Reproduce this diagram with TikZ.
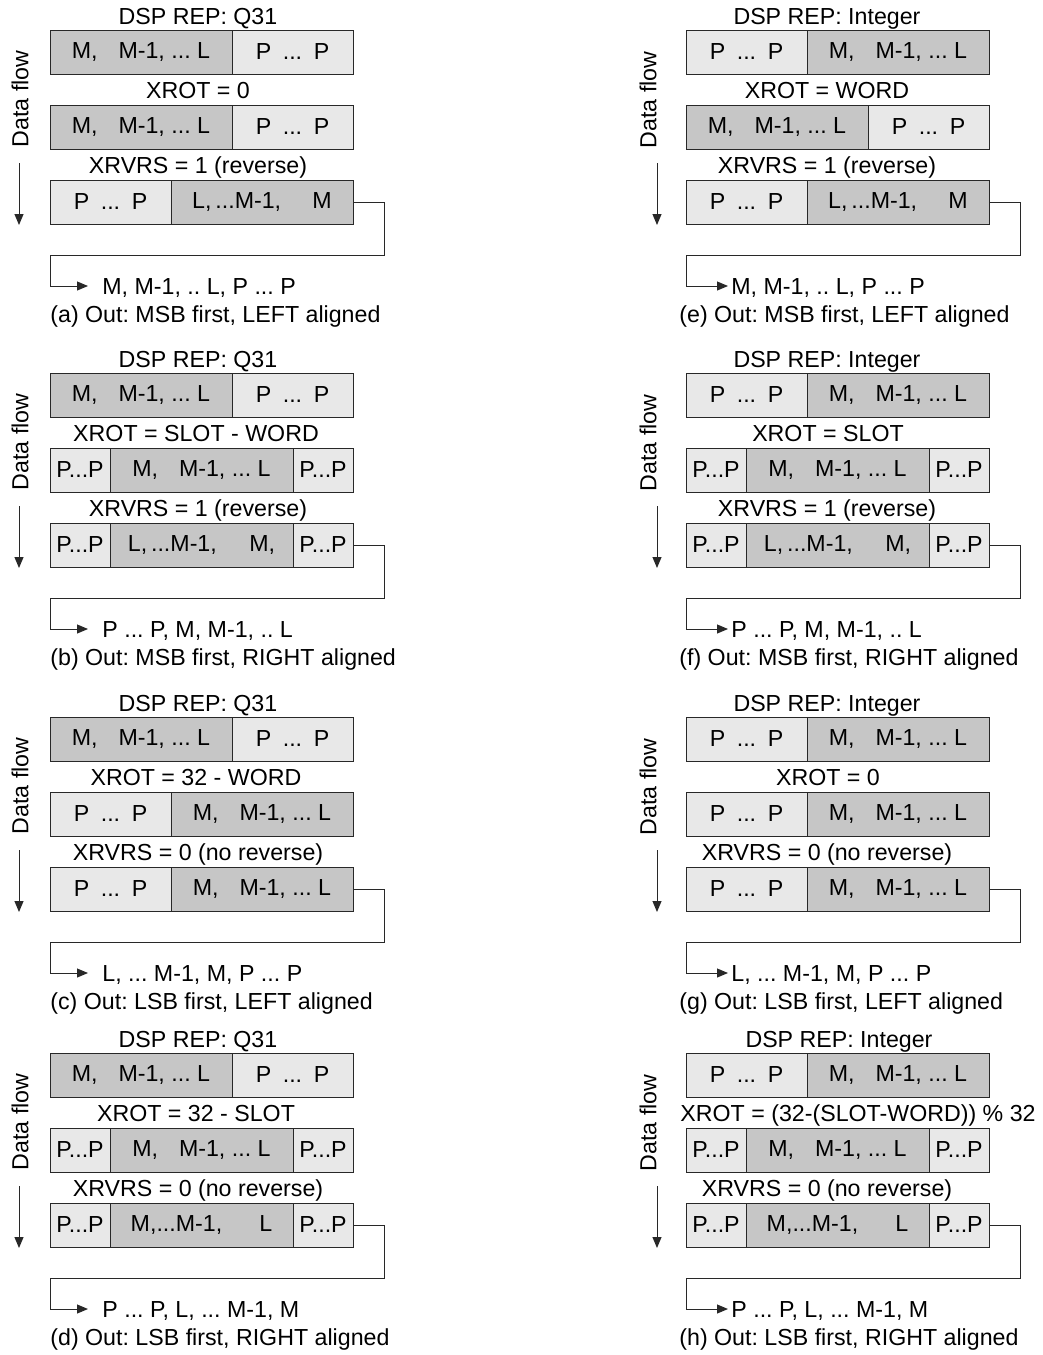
\documentclass[tikz,border=0pt]{standalone}
\usepackage{fontspec}
\setmainfont{Liberation Sans}
\usetikzlibrary{arrows.meta,positioning}
\definecolor{regdark}{RGB}{198,198,198}
\definecolor{reglight}{RGB}{232,232,232}
\definecolor{regline}{RGB}{40,40,40}
\newcommand{\mfwd}{M,\hspace{0.9em}M-1, ... L}
\newcommand{\mrev}{L,\,...M-1,\hspace{1.35em}M}
\newcommand{\mrevc}{L,\,...M-1,\hspace{1.4em}M,}
\newcommand{\mlast}{M,...M-1,\hspace{1.6em}L}
\newcommand{\pwide}{P\hspace{0.5em}...\hspace{0.5em}P}
\newcommand{\pfew}{P...P}
\frenchspacing

\begin{document}
\begin{tikzpicture}[x=0.5pt, y=-0.5pt, font=\fontsize{11.6pt}{14pt}\selectfont,
  cell/.style={draw=regline, line width=0.5pt, minimum height=22pt, inner sep=0pt, outer sep=0pt, anchor=west},
  dark/.style={fill=regdark},
  light/.style={fill=reglight},
  widecell/.style={minimum width=91pt},
  narrowcell/.style={minimum width=60.5pt},
  padcell/.style={minimum width=30pt},
  midcell/.style={minimum width=91.5pt},
  lbl/.style={anchor=base, inner sep=0pt},
  outtxt/.style={anchor=west, inner xsep=7pt, inner ysep=0pt, text height=8.3pt, text depth=0pt},
  captxt/.style={anchor=base west, inner sep=0pt},
  flowtxt/.style={rotate=90, inner sep=0pt},
  link/.style={draw=regline, line width=0.5pt, -{Triangle[length=5.5pt,width=4.5pt]}}]
  \useasboundingbox (0,0) rectangle (1043,1355);

  % (a) MSB first, left aligned
  \begin{scope}[shift={(0,0)}]
    \node[lbl] (a-rep) at (198,24) {DSP REP: Q31};
    \node[cell, dark, widecell] (a1l) at (50,52) {\mfwd};
    \node[cell, light, narrowcell, right=0pt of a1l] (a1r) {\pwide};
    \node[lbl] (a-rot) at (198,98) {XROT = 0};
    \node[cell, dark, widecell] (a2l) at (50,127) {\mfwd};
    \node[cell, light, narrowcell, right=0pt of a2l] (a2r) {\pwide};
    \node[lbl] (a-rvs) at (198,173) {XRVRS = 1 (reverse)};
    \node[cell, light, narrowcell] (a3l) at (50,202) {\pwide};
    \node[cell, dark, widecell, right=0pt of a3l] (a3r) {\mrev};
    \node[outtxt] (a-out) at (88,286) {M, M-1, .. L, P ... P};
    \node[captxt] (a-cap) at (50,322) {(a) Out: MSB first, LEFT aligned};
    \coordinate (a-k) at (384,255);
    \coordinate (a-j) at (50,255);
    \draw[link] (a3r.east) -| (a-k) -- (a-j) |- (a-out.west);
    \node[flowtxt] (a-df) at (20,99) {Data flow};
    \coordinate (a-f1) at (19,163);
    \coordinate (a-f2) at (19,225);
    \draw[link] (a-f1) -- (a-f2);
  \end{scope}

  % (b) MSB first, right aligned
  \begin{scope}[shift={(0,343)}]
    \node[lbl] (b-rep) at (198,24) {DSP REP: Q31};
    \node[cell, dark, widecell] (b1l) at (50,52) {\mfwd};
    \node[cell, light, narrowcell, right=0pt of b1l] (b1r) {\pwide};
    \node[lbl] (b-rot) at (196,98) {XROT = SLOT - WORD};
    \node[cell, light, padcell] (b2l) at (50,127) {\pfew};
    \node[cell, dark, midcell, right=0pt of b2l] (b2m) {\mfwd};
    \node[cell, light, padcell, right=0pt of b2m] (b2r) {\pfew};
    \node[lbl] (b-rvs) at (198,173) {XRVRS = 1 (reverse)};
    \node[cell, light, padcell] (b3l) at (50,202) {\pfew};
    \node[cell, dark, midcell, right=0pt of b3l] (b3m) {\mrevc};
    \node[cell, light, padcell, right=0pt of b3m] (b3r) {\pfew};
    \node[outtxt] (b-out) at (88,286) {P ... P, M, M-1, .. L};
    \node[captxt] (b-cap) at (50,322) {(b) Out: MSB first, RIGHT aligned};
    \coordinate (b-k) at (384,255);
    \coordinate (b-j) at (50,255);
    \draw[link] (b3r.east) -| (b-k) -- (b-j) |- (b-out.west);
    \node[flowtxt] (b-df) at (20,99) {Data flow};
    \coordinate (b-f1) at (19,163);
    \coordinate (b-f2) at (19,225);
    \draw[link] (b-f1) -- (b-f2);
  \end{scope}

  % (c) LSB first, left aligned
  \begin{scope}[shift={(0,687)}]
    \node[lbl] (c-rep) at (198,24) {DSP REP: Q31};
    \node[cell, dark, widecell] (c1l) at (50,52) {\mfwd};
    \node[cell, light, narrowcell, right=0pt of c1l] (c1r) {\pwide};
    \node[lbl] (c-rot) at (196,98) {XROT = 32 - WORD};
    \node[cell, light, narrowcell] (c2l) at (50,127) {\pwide};
    \node[cell, dark, widecell, right=0pt of c2l] (c2r) {\mfwd};
    \node[lbl] (c-rvs) at (198,173) {XRVRS = 0 (no reverse)};
    \node[cell, light, narrowcell] (c3l) at (50,202) {\pwide};
    \node[cell, dark, widecell, right=0pt of c3l] (c3r) {\mfwd};
    \node[outtxt] (c-out) at (88,286) {L, ... M-1, M, P ... P};
    \node[captxt] (c-cap) at (50,322) {(c) Out: LSB first, LEFT aligned};
    \coordinate (c-k) at (384,255);
    \coordinate (c-j) at (50,255);
    \draw[link] (c3r.east) -| (c-k) -- (c-j) |- (c-out.west);
    \node[flowtxt] (c-df) at (20,99) {Data flow};
    \coordinate (c-f1) at (19,163);
    \coordinate (c-f2) at (19,225);
    \draw[link] (c-f1) -- (c-f2);
  \end{scope}

  % (d) LSB first, right aligned
  \begin{scope}[shift={(0,1023)}]
    \node[lbl] (d-rep) at (198,24) {DSP REP: Q31};
    \node[cell, dark, widecell] (d1l) at (50,52) {\mfwd};
    \node[cell, light, narrowcell, right=0pt of d1l] (d1r) {\pwide};
    \node[lbl] (d-rot) at (196,98) {XROT = 32 - SLOT};
    \node[cell, light, padcell] (d2l) at (50,127) {\pfew};
    \node[cell, dark, midcell, right=0pt of d2l] (d2m) {\mfwd};
    \node[cell, light, padcell, right=0pt of d2m] (d2r) {\pfew};
    \node[lbl] (d-rvs) at (198,173) {XRVRS = 0 (no reverse)};
    \node[cell, light, padcell] (d3l) at (50,202) {\pfew};
    \node[cell, dark, midcell, right=0pt of d3l] (d3m) {\mlast};
    \node[cell, light, padcell, right=0pt of d3m] (d3r) {\pfew};
    \node[outtxt] (d-out) at (88,286) {P ... P, L, ... M-1, M};
    \node[captxt] (d-cap) at (50,322) {(d) Out: LSB first, RIGHT aligned};
    \coordinate (d-k) at (384,255);
    \coordinate (d-j) at (50,255);
    \draw[link] (d3r.east) -| (d-k) -- (d-j) |- (d-out.west);
    \node[flowtxt] (d-df) at (20,99) {Data flow};
    \coordinate (d-f1) at (19,163);
    \coordinate (d-f2) at (19,225);
    \draw[link] (d-f1) -- (d-f2);
  \end{scope}

  % (e) MSB first, left aligned
  \begin{scope}[shift={(636,0)}]
    \node[lbl] (e-rep) at (191,24) {DSP REP: Integer};
    \node[cell, light, narrowcell] (e1l) at (50,52) {\pwide};
    \node[cell, dark, widecell, right=0pt of e1l] (e1r) {\mfwd};
    \node[lbl] (e-rot) at (191,98) {XROT = WORD};
    \node[cell, dark, widecell] (e2l) at (50,127) {\mfwd};
    \node[cell, light, narrowcell, right=0pt of e2l] (e2r) {\pwide};
    \node[lbl] (e-rvs) at (191,173) {XRVRS = 1 (reverse)};
    \node[cell, light, narrowcell] (e3l) at (50,202) {\pwide};
    \node[cell, dark, widecell, right=0pt of e3l] (e3r) {\mrev};
    \node[outtxt, inner xsep=1.5pt] (e-out) at (92,286) {M, M-1, .. L, P ... P};
    \node[captxt] (e-cap) at (43,322) {(e) Out: MSB first, LEFT aligned};
    \coordinate (e-k) at (384,255);
    \coordinate (e-j) at (50,255);
    \draw[link] (e3r.east) -| (e-k) -- (e-j) |- (e-out.west);
    \node[flowtxt] (e-df) at (12,100) {Data flow};
    \coordinate (e-f1) at (21,163);
    \coordinate (e-f2) at (21,225);
    \draw[link] (e-f1) -- (e-f2);
  \end{scope}

  % (f) MSB first, right aligned
  \begin{scope}[shift={(636,343)}]
    \node[lbl] (f-rep) at (191,24) {DSP REP: Integer};
    \node[cell, light, narrowcell] (f1l) at (50,52) {\pwide};
    \node[cell, dark, widecell, right=0pt of f1l] (f1r) {\mfwd};
    \node[lbl] (f-rot) at (192,98) {XROT = SLOT};
    \node[cell, light, padcell] (f2l) at (50,127) {\pfew};
    \node[cell, dark, midcell, right=0pt of f2l] (f2m) {\mfwd};
    \node[cell, light, padcell, right=0pt of f2m] (f2r) {\pfew};
    \node[lbl] (f-rvs) at (191,173) {XRVRS = 1 (reverse)};
    \node[cell, light, padcell] (f3l) at (50,202) {\pfew};
    \node[cell, dark, midcell, right=0pt of f3l] (f3m) {\mrevc};
    \node[cell, light, padcell, right=0pt of f3m] (f3r) {\pfew};
    \node[outtxt, inner xsep=1.5pt] (f-out) at (92,286) {P ... P, M, M-1, .. L};
    \node[captxt] (f-cap) at (43,322) {(f) Out: MSB first, RIGHT aligned};
    \coordinate (f-k) at (384,255);
    \coordinate (f-j) at (50,255);
    \draw[link] (f3r.east) -| (f-k) -- (f-j) |- (f-out.west);
    \node[flowtxt] (f-df) at (12,100) {Data flow};
    \coordinate (f-f1) at (21,163);
    \coordinate (f-f2) at (21,225);
    \draw[link] (f-f1) -- (f-f2);
  \end{scope}

  % (g) LSB first, left aligned
  \begin{scope}[shift={(636,687)}]
    \node[lbl] (g-rep) at (191,24) {DSP REP: Integer};
    \node[cell, light, narrowcell] (g1l) at (50,52) {\pwide};
    \node[cell, dark, widecell, right=0pt of g1l] (g1r) {\mfwd};
    \node[lbl] (g-rot) at (192,98) {XROT = 0};
    \node[cell, light, narrowcell] (g2l) at (50,127) {\pwide};
    \node[cell, dark, widecell, right=0pt of g2l] (g2r) {\mfwd};
    \node[lbl] (g-rvs) at (191,173) {XRVRS = 0 (no reverse)};
    \node[cell, light, narrowcell] (g3l) at (50,202) {\pwide};
    \node[cell, dark, widecell, right=0pt of g3l] (g3r) {\mfwd};
    \node[outtxt, inner xsep=1.5pt] (g-out) at (92,286) {L, ... M-1, M, P ... P};
    \node[captxt] (g-cap) at (43,322) {(g) Out: LSB first, LEFT aligned};
    \coordinate (g-k) at (384,255);
    \coordinate (g-j) at (50,255);
    \draw[link] (g3r.east) -| (g-k) -- (g-j) |- (g-out.west);
    \node[flowtxt] (g-df) at (12,100) {Data flow};
    \coordinate (g-f1) at (21,163);
    \coordinate (g-f2) at (21,225);
    \draw[link] (g-f1) -- (g-f2);
  \end{scope}

  % (h) LSB first, right aligned
  \begin{scope}[shift={(636,1023)}]
    \node[lbl] (h-rep) at (203,24) {DSP REP: Integer};
    \node[cell, light, narrowcell] (h1l) at (50,52) {\pwide};
    \node[cell, dark, widecell, right=0pt of h1l] (h1r) {\mfwd};
    \node[lbl] (h-rot) at (222,98) {XROT = (32-(SLOT-WORD)) \% 32};
    \node[cell, light, padcell] (h2l) at (50,127) {\pfew};
    \node[cell, dark, midcell, right=0pt of h2l] (h2m) {\mfwd};
    \node[cell, light, padcell, right=0pt of h2m] (h2r) {\pfew};
    \node[lbl] (h-rvs) at (191,173) {XRVRS = 0 (no reverse)};
    \node[cell, light, padcell] (h3l) at (50,202) {\pfew};
    \node[cell, dark, midcell, right=0pt of h3l] (h3m) {\mlast};
    \node[cell, light, padcell, right=0pt of h3m] (h3r) {\pfew};
    \node[outtxt, inner xsep=1.5pt] (h-out) at (92,286) {P ... P, L, ... M-1, M};
    \node[captxt] (h-cap) at (43,322) {(h) Out: LSB first, RIGHT aligned};
    \coordinate (h-k) at (384,255);
    \coordinate (h-j) at (50,255);
    \draw[link] (h3r.east) -| (h-k) -- (h-j) |- (h-out.west);
    \node[flowtxt] (h-df) at (12,100) {Data flow};
    \coordinate (h-f1) at (21,163);
    \coordinate (h-f2) at (21,225);
    \draw[link] (h-f1) -- (h-f2);
  \end{scope}
\end{tikzpicture}
\end{document}
